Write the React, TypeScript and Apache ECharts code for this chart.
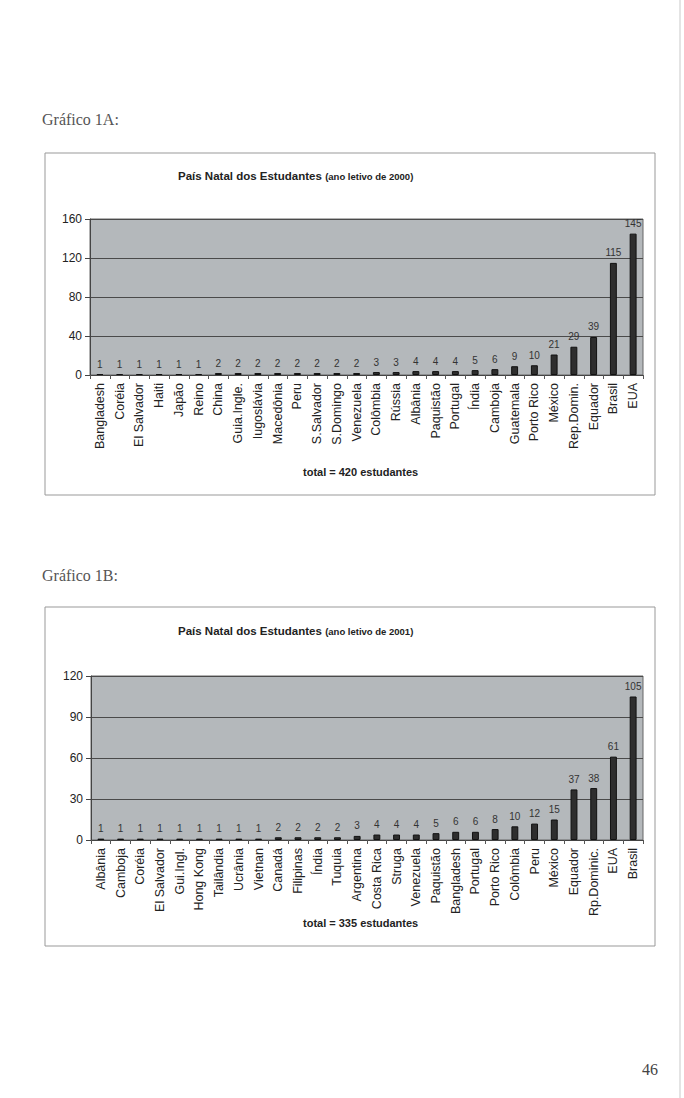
import React, { useEffect, useRef } from "react";
import * as echarts from "echarts";

const categories2000 = [
  "Bangladesh", "Coréia", "El Salvador", "Haiti", "Japão", "Reino", "China",
  "Guia.Ingle.", "Iugoslávia", "Macedônia", "Peru", "S.Salvador", "S.Domingo",
  "Venezuela", "Colômbia", "Rússia", "Albânia", "Paquistão", "Portugal", "Índia",
  "Camboja", "Guatemala", "Porto Rico", "México", "Rep.Domin.", "Equador", "Brasil", "EUA",
];
const values2000 = [1, 1, 1, 1, 1, 1, 2, 2, 2, 2, 2, 2, 2, 2, 3, 3, 4, 4, 4, 5, 6, 9, 10, 21, 29, 39, 115, 145];

const categories2001 = [
  "Albânia", "Camboja", "Coréia", "El Salvador", "Gui.Ingl.", "Hong Kong", "Tailândia",
  "Ucrânia", "Vietnan", "Canadá", "Filipinas", "Índia", "Tuquia", "Argentina",
  "Costa Rica", "Struga", "Venezuela", "Paquistão", "Bangladesh", "Portugal",
  "Porto Rico", "Colômbia", "Peru", "México", "Equador", "Rp.Dominic.", "EUA", "Brasil",
];
const values2001 = [1, 1, 1, 1, 1, 1, 1, 1, 1, 2, 2, 2, 2, 3, 4, 4, 4, 5, 6, 6, 8, 10, 12, 15, 37, 38, 61, 105];

const yTicks2000 = { min: 0, max: 160, interval: 40 };
const yTicks2001 = { min: 0, max: 120, interval: 30 };

const title2000 = ["País Natal dos Estudantes", "(ano letivo de 2000)"];
const title2001 = ["País Natal dos Estudantes", "(ano letivo de 2001)"];
const total2000 = "total = 420 estudantes";
const total2001 = "total = 335 estudantes";

export default function App() {
  const ref = useRef<HTMLDivElement>(null);

  useEffect(() => {
    if (!ref.current) return;
    const chart = echarts.init(ref.current, undefined, { renderer: "svg" });

    const font = "Liberation Sans, Arial, sans-serif";
    const serif = "Liberation Serif, Times New Roman, serif";

    const grids = [
      { left: 90, top: 219, width: 553, height: 156 },
      { left: 91, top: 676, width: 552, height: 164 },
    ];

    const xAxis = [categories2000, categories2001].map((cats, i) => ({
      type: "category",
      gridIndex: i,
      data: cats,
      axisLine: { lineStyle: { color: "#444", width: 1 } },
      axisTick: { show: true, length: 4, lineStyle: { color: "#555" } },
      axisLabel: {
        rotate: 90,
        interval: 0,
        fontSize: 12.5,
        fontFamily: font,
        color: "#222",
        margin: 8,
      },
    }));

    const yAxis = [yTicks2000, yTicks2001].map((t, i) => ({
      type: "value",
      gridIndex: i,
      min: t.min,
      max: t.max,
      interval: t.interval,
      axisLine: { show: true, lineStyle: { color: "#444" } },
      axisTick: { show: true, length: 5, lineStyle: { color: "#444" } },
      axisLabel: { fontSize: 12, fontFamily: font, color: "#222", margin: 8 },
      splitLine: { show: true, lineStyle: { color: "#4a4a4a", width: 1 } },
    }));

    const series = [values2000, values2001].map((vals, i) => ({
      type: "bar",
      xAxisIndex: i,
      yAxisIndex: i,
      data: vals,
      barWidth: "35%",
      itemStyle: { color: "#2e2e2e", borderColor: "#111", borderWidth: 1 },
      label: {
        show: true,
        position: "top",
        distance: 5,
        fontSize: 10,
        fontFamily: font,
        color: "#333333",
        textBorderWidth: 0,
      },
    }));

    const titleText = (t: string[], y: number) => ({
      type: "text",
      left: 178,
      top: y,
      style: {
        rich: {
          a: { fontSize: 11.5, fontWeight: "bold", fontFamily: font, fill: "#222" },
          b: { fontSize: 9.5, fontWeight: "bold", fontFamily: font, fill: "#222" },
        },
        text: `{a|${t[0]}} {b|${t[1]}}`,
      },
    });

    chart.setOption({
      animation: false,
      backgroundColor: "#ffffff",
      grid: grids.map((g) => ({
        ...g,
        show: true,
        backgroundColor: "#b4b8bb",
        borderColor: "#666",
        borderWidth: 1,
        containLabel: false,
      })),
      xAxis,
      yAxis,
      series,
      graphic: [
        {
          type: "rect",
          shape: { x: 45, y: 153, width: 610, height: 342 },
          style: { fill: "none", stroke: "#999", lineWidth: 1 },
        },
        {
          type: "rect",
          shape: { x: 45, y: 607, width: 610, height: 339 },
          style: { fill: "none", stroke: "#999", lineWidth: 1 },
        },
        {
          type: "line",
          shape: { x1: 680, y1: 0, x2: 680, y2: 1098 },
          style: { stroke: "#e4e4e4", lineWidth: 2 },
        },
        {
          type: "text",
          left: 42,
          top: 111,
          style: { text: "Gráfico 1A:", fontSize: 16, fontFamily: serif, fill: "#555" },
        },
        {
          type: "text",
          left: 42,
          top: 567,
          style: { text: "Gráfico 1B:", fontSize: 16, fontFamily: serif, fill: "#555" },
        },
        titleText(title2000, 170),
        titleText(title2001, 625),
        {
          type: "text",
          left: 303,
          top: 466,
          style: { text: total2000, fontSize: 11, fontWeight: "bold", fontFamily: font, fill: "#222" },
        },
        {
          type: "text",
          left: 303,
          top: 917,
          style: { text: total2001, fontSize: 11, fontWeight: "bold", fontFamily: font, fill: "#222" },
        },
        {
          type: "text",
          left: 642,
          top: 1061,
          style: { text: "46", fontSize: 16, fontFamily: serif, fill: "#444" },
        },
      ],
    });

    return () => chart.dispose();
  }, []);

  return (
    <div
      ref={ref}
      style={{ position: "absolute", left: 0, top: 0, width: 684, height: 1098 }}
    />
  );
}
